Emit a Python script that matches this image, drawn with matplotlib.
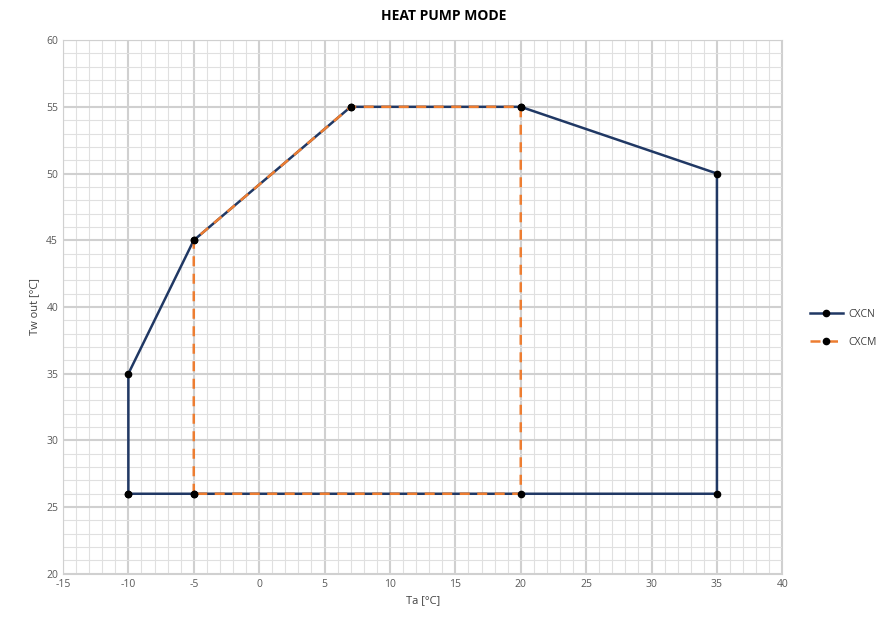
import matplotlib.pyplot as plt
from matplotlib.ticker import MultipleLocator

# envelope points
cxcn_x = [-10, -10, -5, 7, 20, 35, 35, -10]
cxcn_y = [26, 35, 45, 55, 55, 50, 26, 26]
cxcm_x = [-5, -5, 7, 20, 20, -5]
cxcm_y = [26, 45, 55, 55, 26, 26]


def main():
    plt.rcParams['font.family'] = ['Open Sans', 'DejaVu Sans']
    plt.rcParams['axes.unicode_minus'] = False
    fig = plt.figure(figsize=(8.87, 6.17), dpi=100)
    ax = fig.add_axes([0.071, 0.070, 0.811, 0.865])

    ax.plot(cxcn_x, cxcn_y, color='#203864', lw=1.8, marker='o', ms=4.5,
            mfc='black', mec='black', label='CXCN', zorder=3)
    ax.plot(cxcm_x, cxcm_y, color='#ED7D31', lw=1.8, ls=(0, (4, 3)), marker='o', ms=4.5,
            mfc='black', mec='black', label='CXCM', zorder=4)

    ax.set_xlim(-15, 40)
    ax.set_ylim(20, 60)
    ax.xaxis.set_major_locator(MultipleLocator(5))
    ax.yaxis.set_major_locator(MultipleLocator(5))
    ax.xaxis.set_minor_locator(MultipleLocator(1))
    ax.yaxis.set_minor_locator(MultipleLocator(1))
    ax.grid(which='major', color='#d0d0d0', lw=1.5, zorder=0)
    ax.grid(which='minor', color='#e0e0e0', lw=0.8, zorder=0)
    ax.set_axisbelow(True)
    for s in ax.spines.values():
        s.set_color('#d0d0d0')
    ax.tick_params(which='both', length=0, labelsize=7.5, colors='#595959')

    ax.set_xlabel('Ta [°C]', fontsize=8, color='#404040')
    ax.set_ylabel('Tw out [°C]', fontsize=8, color='#404040')
    fig.suptitle('HEAT PUMP MODE', fontsize=10, fontweight='bold', y=0.985)

    ax.legend(loc='center left', bbox_to_anchor=(1.025, 0.46), frameon=False,
              fontsize=7.5, handlelength=3.2, labelspacing=1.6,
              handletextpad=0.5, labelcolor='#404040')

    fig.savefig('out.png', dpi=100)


if __name__ == "__main__":
    main()
